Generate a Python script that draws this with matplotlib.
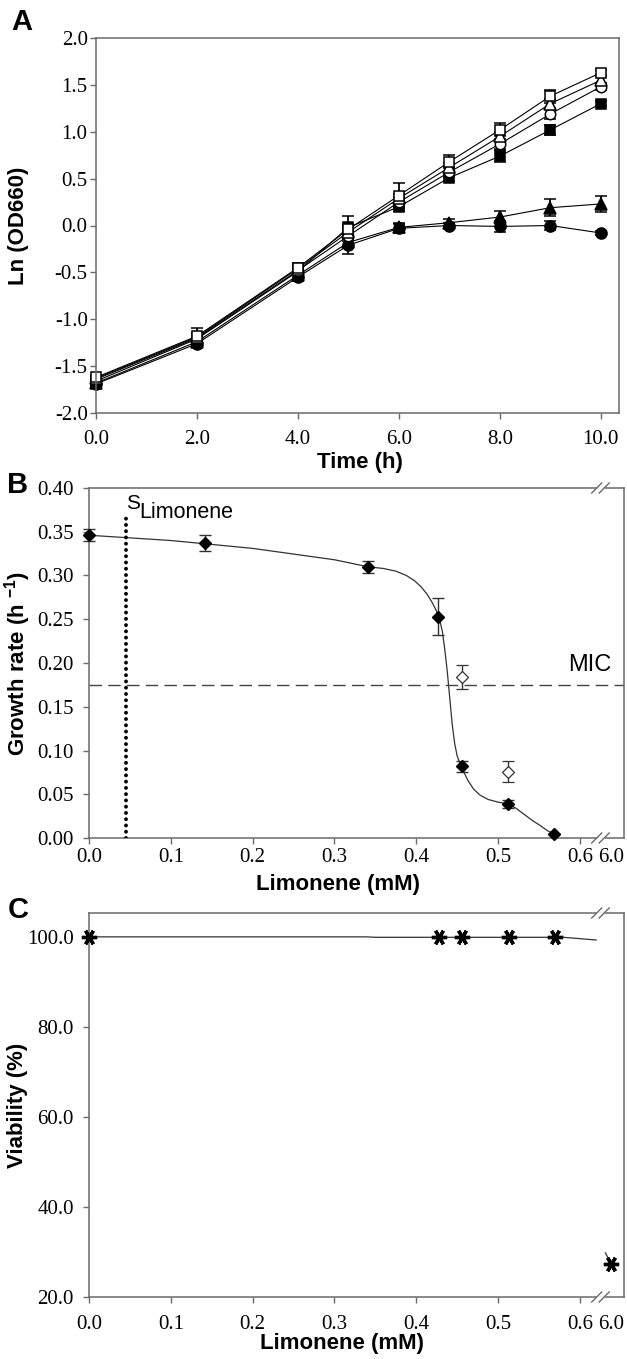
import numpy as np
import matplotlib
matplotlib.use('Agg')
import matplotlib.pyplot as plt
from matplotlib.ticker import FormatStrFormatter

plt.rcParams['axes.unicode_minus'] = False
plt.rcParams['mathtext.fontset'] = 'custom'
plt.rcParams['mathtext.rm'] = 'Liberation Sans'
plt.rcParams['mathtext.bf'] = 'Liberation Sans:bold'

# Panel A - growth curves, ln(OD660) against time
time_h = [0, 2, 4, 5, 6, 7, 8, 9, 10]
ln_sq_open = [-1.62, -1.18, -0.45, -0.04, 0.32, 0.68, 1.02, 1.38, 1.63]
ln_tri_open = [-1.63, -1.19, -0.46, -0.07, 0.29, 0.62, 0.95, 1.30, 1.55]
ln_circ_open = [-1.64, -1.20, -0.48, -0.11, 0.25, 0.57, 0.87, 1.19, 1.48]
ln_sq_fill = [-1.66, -1.21, -0.49, -0.02, 0.20, 0.51, 0.74, 1.02, 1.30]
ln_tri_fill = [-1.68, -1.24, -0.53, -0.18, -0.02, 0.03, 0.09, 0.19, 0.23]
ln_circ_fill = [-1.69, -1.26, -0.55, -0.21, -0.03, 0.00, -0.01, 0.00, -0.08]
err_sq_open = [0.03, 0.09, 0.05, 0.05, 0.13, 0.07, 0.07, 0.07, 0.03]
err_tri_open = [0.03, 0.04, 0.04, 0.05, 0.05, 0.05, 0.05, 0.05, 0.04]
err_circ_open = [0.03, 0.04, 0.04, 0.05, 0.05, 0.05, 0.05, 0.05, 0.04]
err_sq_fill = [0.03, 0.05, 0.04, 0.12, 0.04, 0.04, 0.06, 0.05, 0.03]
err_tri_fill = [0.03, 0.04, 0.04, 0.06, 0.05, 0.04, 0.06, 0.09, 0.09]
err_circ_fill = [0.03, 0.04, 0.04, 0.09, 0.05, 0.03, 0.06, 0.05, 0.02]

# Panel B - growth rate against limonene
limonene_mm = [0.0, 0.142, 0.341, 0.427, 0.456, 0.512, 0.568]
growth_rate = [0.346, 0.337, 0.310, 0.253, 0.082, 0.039, 0.005]
growth_err = [0.007, 0.009, 0.007, 0.021, 0.006, 0.005, 0.0]
open_limonene = [0.456, 0.512]
open_rate = [0.184, 0.076]
open_err = [0.014, 0.012]
# fitted curve
fit_x = [0.0, 0.1, 0.2, 0.3, 0.341, 0.360, 0.375, 0.388, 0.398, 0.406, 0.413, 0.419,
         0.424, 0.428, 0.432, 0.435, 0.438, 0.441, 0.444, 0.447, 0.450, 0.454, 0.458,
         0.463, 0.470, 0.478, 0.488, 0.500, 0.512, 0.522, 0.532, 0.542, 0.552, 0.561, 0.568]
fit_y = [0.346, 0.340, 0.331, 0.318, 0.310, 0.308, 0.305, 0.300, 0.294, 0.287, 0.279, 0.270,
         0.261, 0.252, 0.236, 0.215, 0.190, 0.160, 0.130, 0.108, 0.094, 0.084, 0.076,
         0.066, 0.056, 0.049, 0.044, 0.041, 0.039, 0.034, 0.027, 0.020, 0.014, 0.008, 0.005]
mic_rate = 0.175
s_limonene = 0.045

# Panel C - viability against limonene
via_x = [0.0, 0.428, 0.456, 0.513, 0.57, 6.0]
via_y = [100.0, 100.0, 100.0, 100.0, 100.0, 27.3]
via_fit_x = [0.0, 0.34, 0.35, 0.58, 0.62]
via_fit_y = [100.0, 100.0, 99.9, 99.9, 99.3]
via_fit2_x = [3.1, 6.0]
via_fit2_y = [29.8, 27.3]

# broken x axis: squeeze 0.625..6.0 into a short gap
brk_data = [-10.0, 0.625, 6.0, 106.0]
brk_pos = [-10.0, 0.625, 0.6385, 0.9385]


def fwd(x):
    return np.interp(x, brk_data, brk_pos)


def inv(p):
    return np.interp(p, brk_pos, brk_data)


W, H = 627, 1359
fig = plt.figure(figsize=(W / 100, H / 100), dpi=100)


def box(l, r, t, b):
    return [l / W, 1 - b / H, (r - l) / W, (b - t) / H]


tick_font = {'family': 'Liberation Serif', 'size': 15}
lab_font = {'family': 'Liberation Sans', 'size': 16, 'weight': 'bold'}
spine_col = '#6a6a6a'


def style(ax, xpad, ypad):
    for s in ax.spines.values():
        s.set_color(spine_col)
        s.set_linewidth(1.1)
    ax.tick_params(direction='out', length=4, width=1.0, color=spine_col)
    ax.tick_params(axis='x', pad=xpad)
    ax.tick_params(axis='y', pad=ypad)
    for t in ax.get_xticklabels() + ax.get_yticklabels():
        t.set_fontfamily(tick_font['family'])
        t.set_fontsize(tick_font['size'])


def breaks(ax, h):
    for yb in (0, 1):
        ax.plot([0.951, 0.961], [yb, yb], transform=ax.transAxes, color='white',
                lw=2, clip_on=False, zorder=5)
        for xc in (0.949, 0.963):
            ax.plot([xc - 5 / 535, xc + 5 / 535], [yb - 5 / h, yb + 5 / h],
                    transform=ax.transAxes, color=spine_col, lw=1.0,
                    clip_on=False, zorder=6)


eb = dict(color='black', lw=0.8, elinewidth=1.3, capsize=4, capthick=1.3, ecolor='black')

# ---------- A ----------
axA = fig.add_axes(box(96, 619, 38, 413))
series = [
    (ln_circ_fill, err_circ_fill, 'o', 'black', 8),
    (ln_tri_fill, err_tri_fill, '^', 'black', 8.5),
    (ln_sq_fill, err_sq_fill, 's', 'black', 7.5),
    (ln_circ_open, err_circ_open, 'o', 'white', 7.5),
    (ln_tri_open, err_tri_open, '^', 'white', 8),
    (ln_sq_open, err_sq_open, 's', 'white', 6.5),
]
for vals, errs, mk, fc, ms in series:
    axA.errorbar(time_h, vals, yerr=errs, marker=mk, mfc=fc, mec='black', mew=1.1,
                 ms=ms, clip_on=False, **eb)
axA.set_xlim(0, 10.36)
axA.set_ylim(-2.0, 2.0)
axA.set_xticks([0, 2, 4, 6, 8, 10])
axA.set_yticks(np.arange(-2.0, 2.01, 0.5))
axA.xaxis.set_major_formatter(FormatStrFormatter('%.1f'))
axA.yaxis.set_major_formatter(FormatStrFormatter('%.1f'))
style(axA, 8, 2)
axA.set_xlabel('Time (h)', **lab_font)
axA.set_ylabel('Ln (OD660)', **lab_font)
axA.xaxis.set_label_coords(0.505, -0.133)
axA.yaxis.set_label_coords(-0.149, 0.5)
axA.xaxis.label.set_va('center')
axA.yaxis.label.set_va('center')

# ---------- B ----------
axB = fig.add_axes(box(89, 624, 488, 838))
axB.set_xscale('function', functions=(fwd, inv))
axB.plot(fit_x, fit_y, color='#333333', lw=0.9)
axB.errorbar(limonene_mm, growth_rate, yerr=growth_err, fmt='D', mfc='black', mec='black',
             ms=6.5, elinewidth=1.0, capsize=4, capthick=1.0, ecolor='#333333',
             clip_on=False, zorder=4)
axB.errorbar(open_limonene, open_rate, yerr=open_err, fmt='D', mfc='white', mec='#333333',
             ms=6.5, mew=0.9, elinewidth=1.0, capsize=4, capthick=1.0, ecolor='#333333',
             zorder=4)
axB.axhline(mic_rate, color='#444444', lw=1.0, dashes=(9, 4.5))
axB.plot([s_limonene, s_limonene], [0.0, 0.368], color='black', lw=2.8,
         linestyle=(0, (0.01, 1.6)), dash_capstyle='round', zorder=3)
axB.text(s_limonene, 0.371, 'S', fontfamily='Liberation Sans', fontsize=15,
         ha='left', va='bottom')
axB.text(0.062, 0.3605, 'Limonene', fontfamily='Liberation Sans', fontsize=15.5,
         ha='left', va='bottom')
axB.text(6.0, 0.185, 'MIC', fontfamily='Liberation Sans', fontsize=17,
         ha='right', va='bottom')
axB.set_xlim(0.0, 11.17)
axB.set_ylim(0.0, 0.40)
axB.set_xticks([0, 0.1, 0.2, 0.3, 0.4, 0.5, 0.6, 6.0])
axB.set_yticks(np.arange(0, 0.401, 0.05))
axB.xaxis.set_major_formatter(FormatStrFormatter('%.1f'))
axB.yaxis.set_major_formatter(FormatStrFormatter('%.2f'))
axB.xaxis.set_minor_locator(plt.NullLocator())
style(axB, 3, 7)
axB.xaxis.get_major_ticks()[-1].tick1line.set_visible(False)
breaks(axB, 350)
axB.set_xlabel('Limonene (mM)', **lab_font)
axB.set_ylabel(r'Growth rate (h $^{\mathbf{-1}}$)', **lab_font)
axB.xaxis.set_label_coords(0.465, -0.134)
axB.yaxis.set_label_coords(-0.133, 0.5)
axB.xaxis.label.set_va('center')
axB.yaxis.label.set_va('center')

# ---------- C ----------
axC = fig.add_axes(box(89, 624, 913, 1297))
axC.set_xscale('function', functions=(fwd, inv))
axC.plot(via_fit_x, via_fit_y, color='#333333', lw=0.9)
axC.plot(via_fit2_x, via_fit2_y, color='#333333', lw=0.9)
axC.plot(via_x, via_y, linestyle='none', marker=(6, 2, 90), ms=11, mew=2.4,
         color='black', clip_on=False, zorder=4)
axC.set_xlim(0.0, 11.17)
axC.set_ylim(20.0, 105.3)
axC.set_xticks([0, 0.1, 0.2, 0.3, 0.4, 0.5, 0.6, 6.0])
axC.set_yticks([20, 40, 60, 80, 100])
axC.xaxis.set_major_formatter(FormatStrFormatter('%.1f'))
axC.yaxis.set_major_formatter(FormatStrFormatter('%.1f'))
axC.xaxis.set_minor_locator(plt.NullLocator())
style(axC, 9, 7)
axC.xaxis.get_major_ticks()[-1].tick1line.set_visible(False)
breaks(axC, 384)
axC.set_xlabel('Limonene (mM)', **lab_font)
axC.set_ylabel('Viability (%)', **lab_font)
axC.xaxis.set_label_coords(0.473, -0.12)
axC.yaxis.set_label_coords(-0.133, 0.5)
axC.xaxis.label.set_va('center')
axC.yaxis.label.set_va('center')

# panel letters
for letter, px, py in [('A', 22, 22), ('B', 18, 485), ('C', 18, 910)]:
    fig.text(px / W, 1 - py / H, letter, fontfamily='Liberation Sans', fontsize=21,
             fontweight='bold', ha='center', va='center')

fig.savefig('out.png', dpi=100)
